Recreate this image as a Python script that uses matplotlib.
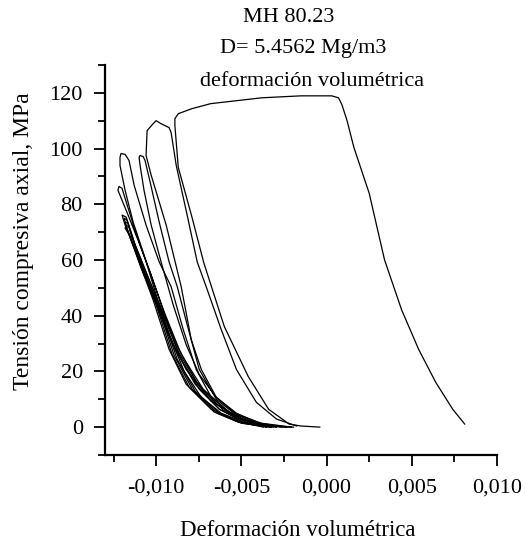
import matplotlib
matplotlib.use("Agg")
import matplotlib.pyplot as plt
from matplotlib.ticker import MultipleLocator, FuncFormatter

plt.rcParams['font.family'] = ['Liberation Serif', 'DejaVu Serif']

# final cycle: loads up to ~119 MPa and dilates to positive strain
x_final = [-0.0004, -0.0015, -0.0022, -0.0034, -0.0046, -0.0060, -0.0072, -0.0079, -0.0087, -0.0089,
           -0.0089, -0.0087, -0.0079, -0.0068, -0.0038, -0.0015, 0.0003, 0.0007, 0.0009, 0.0012,
           0.0016, 0.0025, 0.0034, 0.0044, 0.0054, 0.0064, 0.0074, 0.0081]
y_final = [0, 0.4, 1.1, 6.4, 18.2, 36.1, 58.9, 75.4, 93.2, 108.2,
           110.7, 112.5, 114.3, 116.1, 118.2, 118.9, 118.9, 118.2, 115.7, 110.0,
           100.4, 83.9, 60.0, 42.1, 27.9, 16.1, 6.4, 1.1]

# cycle with peak ~110 MPa
x_c110 = [-0.00206, -0.00382, -0.00529, -0.00647, -0.00735, -0.00794, -0.00853, -0.00941, -0.01029, -0.01059,
          -0.01053, -0.01018, -0.0100, -0.00971, -0.00924, -0.00912, -0.00882, -0.00818, -0.00759, -0.0070,
          -0.00618, -0.00529, -0.00412, -0.00294, -0.00176]
y_c110 = [0, 1.4, 4.6, 10.7, 20.7, 31.4, 50.4, 72.5, 90.4, 97.5,
          106.4, 108.9, 110.0, 108.9, 107.5, 105.7, 93.9, 76.1, 59.3, 49.3,
          35.0, 20.7, 8.9, 2.9, 0.4]

# cycle with peak ~98 MPa (far left)
x_c98 = [-0.00294, -0.00471, -0.00618, -0.00735, -0.00835, -0.00924, -0.0100, -0.01071, -0.01135, -0.01182,
         -0.01212, -0.01212, -0.01206, -0.01182, -0.01159, -0.01129, -0.01059, -0.00982, -0.00912, -0.00841,
         -0.00765, -0.00676, -0.00559, -0.00412, -0.00265]
y_c98 = [0, 1.4, 5.0, 10.7, 20.0, 33.2, 47.5, 61.8, 73.6, 85.0,
         93.9, 96.8, 98.2, 97.9, 95.7, 86.8, 72.5, 59.3, 50.4, 35.0,
         20.7, 10.7, 4.6, 1.1, 0]

# cycle with peak ~97 MPa
x_c97 = [-0.00235, -0.00394, -0.00529, -0.00647, -0.00747, -0.00824, -0.0090, -0.00971, -0.01029, -0.01071,
         -0.01094, -0.0110, -0.01094, -0.01076, -0.01065, -0.01035, -0.00982, -0.00924, -0.00876, -0.00818,
         -0.00747, -0.00647, -0.0050, -0.00335, -0.00194]
y_c97 = [0, 1.4, 5.0, 10.7, 18.9, 29.6, 43.9, 59.3, 72.5, 85.0,
         93.9, 96.8, 97.5, 97.1, 95.7, 87.9, 73.6, 59.3, 50.4, 36.8,
         20.7, 10.0, 2.9, 0.4, 0]

# cycle with peak ~86 MPa
x_c86 = [-0.00324, -0.00488, -0.00629, -0.00747, -0.00853, -0.00941, -0.01029, -0.01106, -0.01171, -0.01212,
         -0.01224, -0.01218, -0.0120, -0.01182, -0.01124, -0.01041, -0.00953, -0.00865, -0.00765, -0.00647,
         -0.0050, -0.00353]
y_c86 = [0, 1.8, 6.4, 13.6, 24.3, 38.6, 54.6, 67.1, 77.1, 83.2,
         85.0, 86.4, 85.7, 82.1, 70.7, 56.4, 41.4, 27.9, 16.4, 8.2,
         2.9, 0]

# dense bundle of cycles peaking ~72-76 MPa
x_b1 = [-0.00353, -0.00518, -0.00659, -0.00806, -0.00906, -0.0100, -0.01088, -0.01147, -0.01182, -0.01188,
        -0.01171, -0.01141, -0.01076, -0.00988, -0.00888, -0.00771, -0.00629, -0.00471, -0.00294]
y_b1 = [0, 1.8, 5.4, 14.3, 26.1, 43.9, 57.1, 67.1, 73.6, 75.0,
        74.3, 67.9, 57.1, 43.9, 27.9, 15.4, 6.4, 1.8, 0]

x_b2 = [-0.00335, -0.0050, -0.00641, -0.00788, -0.00894, -0.00988, -0.01076, -0.01141, -0.01176, -0.01182,
        -0.01165, -0.01129, -0.01059, -0.00971, -0.00871, -0.00747, -0.00606, -0.00441, -0.00253]
y_b2 = [0, 1.4, 5.0, 13.6, 25.7, 43.2, 56.4, 66.1, 72.1, 73.6,
        73.2, 66.4, 55.7, 42.1, 27.1, 14.6, 6.1, 1.4, 0]

x_b3 = [-0.00371, -0.00529, -0.00676, -0.00824, -0.00924, -0.01018, -0.0110, -0.01153, -0.01182, -0.01176,
        -0.01159, -0.01124, -0.01053, -0.00959, -0.00853, -0.00724, -0.00571, -0.00394, -0.00206]
y_b3 = [0, 2.1, 6.4, 15.4, 27.9, 45.7, 59.3, 68.6, 71.4, 72.5,
        71.8, 65.4, 54.6, 41.1, 26.1, 13.6, 5.4, 1.1, 0]

x_b4 = [-0.00324, -0.00488, -0.00629, -0.00771, -0.00876, -0.00971, -0.01065, -0.01135, -0.01182, -0.0120,
        -0.01176, -0.01147, -0.01094, -0.01029, -0.00941, -0.00824, -0.00676, -0.0050, -0.00312]
y_b4 = [0, 1.4, 5.0, 12.9, 24.3, 41.1, 54.6, 65.4, 72.5, 76.1,
        75.4, 70.0, 59.3, 48.6, 35.0, 20.7, 9.3, 2.9, 0]

curves = [(x_final, y_final), (x_c110, y_c110), (x_c98, y_c98), (x_c97, y_c97), (x_c86, y_c86),
          (x_b1, y_b1), (x_b2, y_b2), (x_b3, y_b3), (x_b4, y_b4)]

title_lines = ["MH 80.23", "D= 5.4562 Mg/m3", "deformación volumétrica"]

fig = plt.figure(figsize=(5.26, 5.41), dpi=100)
ax = fig.add_axes([0.1996, 0.159, 0.7454, 0.721])

for xs, ys in curves:
    ax.plot(xs, ys, color='black', lw=0.9)

ax.set_xlim(-0.013, 0.010)
ax.set_ylim(-10, 130)

ax.spines['top'].set_visible(False)
ax.spines['right'].set_visible(False)
ax.spines['left'].set_linewidth(1.6)
ax.spines['bottom'].set_linewidth(1.6)

ax.xaxis.set_major_locator(MultipleLocator(0.005))
ax.xaxis.set_minor_locator(MultipleLocator(0.0025))
ax.yaxis.set_major_locator(MultipleLocator(20))
ax.yaxis.set_minor_locator(MultipleLocator(10))
ax.xaxis.set_major_formatter(FuncFormatter(lambda v, p: ('%.3f' % v).replace('.', ',').replace('-0,000', '0,000')))
ax.yaxis.set_major_formatter(FuncFormatter(lambda v, p: '%d' % round(v)))
ax.tick_params(which='major', direction='out', length=8, width=1.3, labelsize=16)
ax.tick_params(which='minor', direction='out', length=5, width=1.3)
ax.tick_params(axis='x', which='major', pad=9)
ax.tick_params(axis='y', which='major', pad=8)

fig.text(0.5665, 1 - 530 / 541, "Deformación volumétrica", ha='center', va='center', fontsize=16.5)
fig.text(24 / 526, 1 - 241 / 541, "Tensión compresiva axial, MPa", ha='center', va='center',
         rotation=90, fontsize=17)

title_x = [289, 303, 312]
title_y = [17, 49, 82]
for t, tx, ty in zip(title_lines, title_x, title_y):
    fig.text(tx / 526, 1 - ty / 541, t, ha='center', va='center', fontsize=16)

fig.savefig("out.png", dpi=100)
